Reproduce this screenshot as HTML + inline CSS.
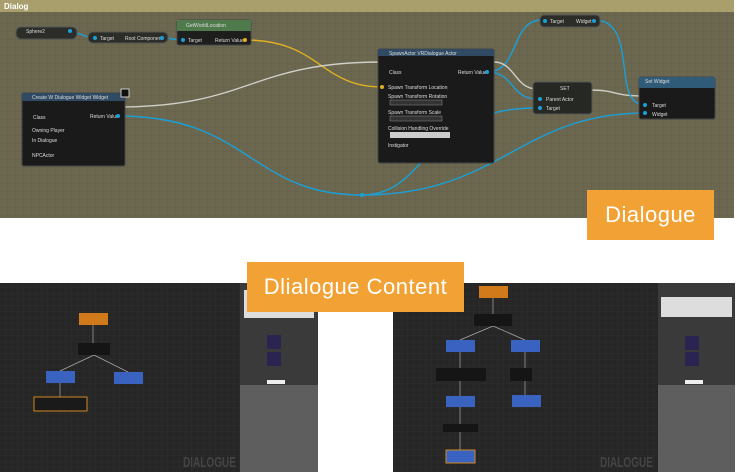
<!DOCTYPE html>
<html><head><meta charset="utf-8"><style>
body{margin:0;width:737px;height:472px;background:#fff;overflow:hidden;position:relative;font-family:"Liberation Sans",sans-serif}
.lab{position:absolute;background:#f2a235;color:#fff;font-size:22px;display:flex;align-items:center;justify-content:center;letter-spacing:0.5px}
</style></head><body>
<svg width="737" height="472" style="position:absolute;left:0;top:0" font-family="Liberation Sans, sans-serif">
<defs>
<pattern id="g1" width="8" height="8" patternUnits="userSpaceOnUse"><rect width="8" height="8" fill="#6c6850"/><path d="M8 0V8H0" fill="none" stroke="#625e48" stroke-width="1"/></pattern>
<pattern id="g2" width="6" height="6" patternUnits="userSpaceOnUse"><rect width="6" height="6" fill="#262626"/><path d="M6 0V6H0" fill="none" stroke="#2e2e2e" stroke-width="1"/></pattern>
</defs>
<rect x="0" y="0" width="734" height="218" fill="url(#g1)"/>
<rect x="0" y="0" width="734" height="12" fill="#a89f6c"/>
<text x="4" y="9" font-size="8" fill="#fff" font-weight="bold">Dialog</text>
<g fill="none" stroke-width="1.4">
<path d="M70 32 C80 32,85 38,95 38" stroke="#1aa0d8"/>
<path d="M162 38 C170 38,175 40,183 40" stroke="#1aa0d8"/>
<path d="M245 40 C320 40,320 87,382 87" stroke="#e0b020"/>
<path d="M118 107 C250 107,250 62,382 62" stroke="#cfcfc8"/>
<path d="M118 116 C250 116,250 195,362 195 C430 195,420 108,537 108" stroke="#1aa0d8"/>
<path d="M362 195 C500 195,520 113,645 113" stroke="#1aa0d8"/>
<path d="M487 72 C520 72,510 20,542 20" stroke="#1aa0d8"/>
<path d="M487 72 C515 72,510 99,537 99" stroke="#1aa0d8"/>
<path d="M494 62 C515 62,515 89,537 89" stroke="#cfcfc8"/>
<path d="M588 90 C620 90,610 96,645 96" stroke="#cfcfc8"/>
<path d="M594 20 C640 20,610 105,645 105" stroke="#1aa0d8"/>
</g>
<circle cx="362" cy="195" r="2" fill="#1aa0d8"/>
<g font-size="5" fill="#ddd">
<rect x="16" y="27" width="61" height="12" rx="5" fill="#2c2c28" stroke="#555"/>
<text x="26" y="33">Sphere2</text><circle cx="70" cy="31" r="2" fill="#1aa0d8"/>
<rect x="88" y="32" width="80" height="11" rx="5" fill="#2c2c28" stroke="#555"/>
<circle cx="95" cy="38" r="2" fill="#1aa0d8"/><text x="100" y="40">Target</text><text x="125" y="40">Root Component</text><circle cx="162" cy="38" r="2" fill="#1aa0d8"/>
<rect x="177" y="20" width="74" height="25" rx="2" fill="#1e1e1c" stroke="#444"/>
<rect x="177" y="20" width="74" height="11" fill="#4e7a4c"/><text x="186" y="27">GetWorldLocation</text>
<circle cx="183" cy="40" r="2" fill="#1aa0d8"/><text x="188" y="42">Target</text><text x="215" y="42">Return Value</text><circle cx="245" cy="40" r="2" fill="#e0b020"/>
<rect x="22" y="93" width="103" height="73" rx="2" fill="#1a1a1a" stroke="#444"/>
<rect x="22" y="93" width="103" height="8" fill="#2f4a62"/><text x="32" y="99">Create W Dialogue Widget Widget</text>
<rect x="121" y="89" width="8" height="8" fill="#111" stroke="#ccc"/>
<text x="33" y="119">Class</text><text x="90" y="118">Return Value</text><circle cx="118" cy="116" r="2" fill="#1aa0d8"/>
<text x="32" y="132">Owning Player</text><text x="32" y="142">In Dialogue</text><text x="32" y="157">NPCActor</text>
<rect x="378" y="49" width="116" height="114" rx="2" fill="#1a1a1a" stroke="#444"/>
<rect x="378" y="49" width="116" height="7" fill="#2f4a62"/><text x="389" y="55">SpawnActor VRDialogue Actor</text>
<text x="389" y="74">Class</text><text x="458" y="74">Return Value</text><circle cx="487" cy="72" r="2" fill="#1aa0d8"/>
<circle cx="382" cy="87" r="2" fill="#e0b020"/><text x="388" y="89">Spawn Transform Location</text>
<text x="388" y="98">Spawn Transform Rotation</text><rect x="390" y="100" width="52" height="5" fill="#333" stroke="#888" stroke-width=".5"/>
<text x="388" y="114">Spawn Transform Scale</text><rect x="390" y="116" width="52" height="5" fill="#333" stroke="#888" stroke-width=".5"/>
<text x="388" y="130">Collision Handling Override</text><rect x="390" y="132" width="60" height="6" fill="#ccc"/>
<text x="388" y="147">Instigator</text>
<rect x="540" y="15" width="60" height="12" rx="4" fill="#2c2c28" stroke="#555"/>
<circle cx="545" cy="21" r="2" fill="#1aa0d8"/><text x="550" y="23">Target</text><text x="576" y="23">Widget</text><circle cx="594" cy="21" r="2" fill="#1aa0d8"/>
<rect x="533" y="82" width="59" height="32" rx="3" fill="#262824" stroke="#555"/>
<text x="560" y="90">SET</text><text x="546" y="101">Parent Actor</text><text x="546" y="110">Target</text>
<circle cx="540" cy="99" r="2" fill="#1aa0d8"/><circle cx="540" cy="108" r="2" fill="#1aa0d8"/>
<rect x="639" y="77" width="76" height="42" rx="2" fill="#1a1a1a" stroke="#444"/>
<rect x="639" y="77" width="76" height="11" fill="#2f5a78"/><text x="645" y="83">Set Widget</text>
<text x="652" y="107">Target</text><text x="652" y="116">Widget</text>
<circle cx="645" cy="105" r="2" fill="#1aa0d8"/><circle cx="645" cy="113" r="2" fill="#1aa0d8"/>
</g>
<rect x="0" y="283" width="240" height="189" fill="url(#g2)"/>
<rect x="240" y="283" width="78" height="189" fill="#5e5e5e"/>
<rect x="240" y="283" width="78" height="102" fill="#3a3a3a"/>
<rect x="244" y="290" width="70" height="28" fill="#ddd"/>
<rect x="267" y="335" width="14" height="14" fill="#2a2450"/><rect x="267" y="352" width="14" height="14" fill="#2a2450"/>
<rect x="267" y="380" width="18" height="4" fill="#eee"/>
<g stroke="#aaa" stroke-width=".7"><path d="M93 325V343M94 355L60 371M94 355L128 372M60 383V397"/></g>
<rect x="79" y="313" width="29" height="12" fill="#d07a1c"/>
<rect x="78" y="343" width="32" height="12" fill="#151515"/>
<rect x="46" y="371" width="29" height="12" fill="#3a62c0"/>
<rect x="114" y="372" width="29" height="12" fill="#3a62c0"/>
<rect x="34" y="397" width="53" height="14" fill="#1a1a1a" stroke="#d08a20"/>
<text x="183" y="467" font-size="15" font-weight="bold" fill="#444" textLength="53" lengthAdjust="spacingAndGlyphs">DIALOGUE</text>
<rect x="393" y="283" width="265" height="189" fill="url(#g2)"/>
<rect x="658" y="283" width="77" height="189" fill="#5e5e5e"/>
<rect x="658" y="283" width="77" height="102" fill="#3a3a3a"/>
<rect x="661" y="297" width="71" height="20" fill="#ddd"/>
<rect x="685" y="336" width="14" height="14" fill="#2a2450"/><rect x="685" y="352" width="14" height="14" fill="#2a2450"/>
<rect x="685" y="380" width="18" height="4" fill="#eee"/>
<g stroke="#aaa" stroke-width=".7"><path d="M493 298V314M493 326L460 340M493 326L525 340M460 352V368M525 352V368M460 381V396M525 381V395M460 407V424M460 432V450"/></g>
<rect x="479" y="286" width="29" height="12" fill="#d07a1c"/>
<rect x="474" y="314" width="38" height="12" fill="#151515"/>
<rect x="446" y="340" width="29" height="12" fill="#3a62c0"/>
<rect x="511" y="340" width="29" height="12" fill="#3a62c0"/>
<rect x="436" y="368" width="50" height="13" fill="#151515"/>
<rect x="510" y="368" width="22" height="13" fill="#151515"/>
<rect x="446" y="396" width="29" height="11" fill="#3a62c0"/>
<rect x="512" y="395" width="29" height="12" fill="#3a62c0"/>
<rect x="443" y="424" width="35" height="8" fill="#151515"/>
<rect x="446" y="450" width="29" height="13" fill="#3a62c0" stroke="#d08a20"/>
<text x="600" y="467" font-size="15" font-weight="bold" fill="#444" textLength="53" lengthAdjust="spacingAndGlyphs">DIALOGUE</text>
</svg>
<div class="lab" style="left:587px;top:190px;width:127px;height:50px">Dialogue</div>
<div class="lab" style="left:247px;top:262px;width:217px;height:50px">Dlialogue Content</div>
</body></html>
